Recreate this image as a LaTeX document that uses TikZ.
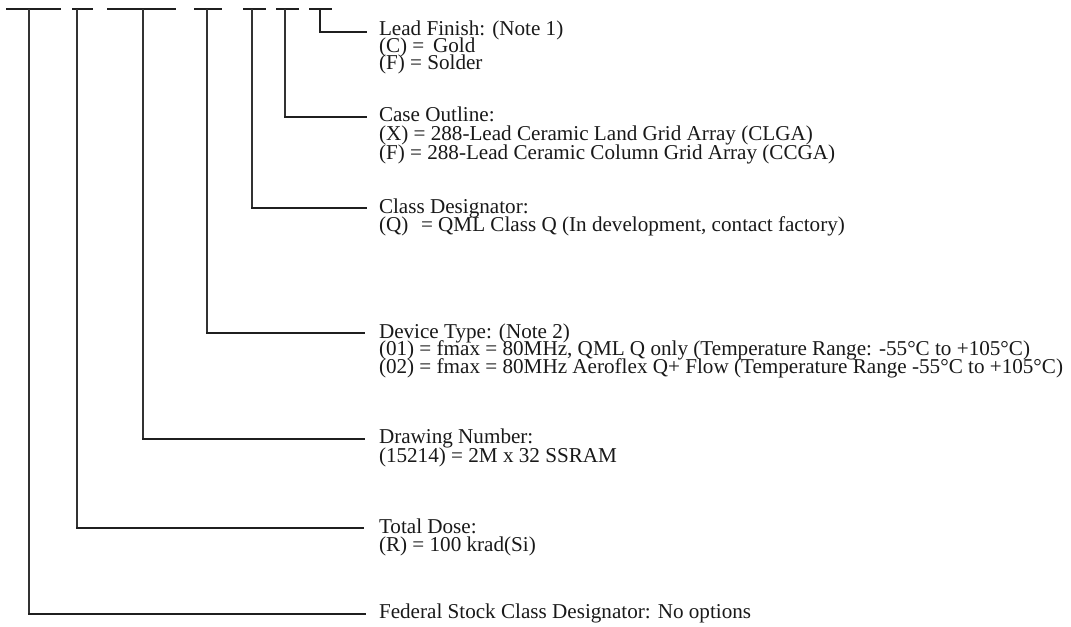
\documentclass[tikz,border=0pt]{standalone}
\usepackage{fontspec}
\setmainfont{Liberation Serif}
\begin{document}
\begin{tikzpicture}[x=0.75pt,y=-0.75pt,
  bar/.style={line width=1.9pt, draw=black!88},
  vline/.style={line width=0.8pt, draw=black!80},
  hline/.style={line width=1.6pt, draw=black!88},
  lbl/.style={anchor=base west, inner sep=0pt, outer sep=0pt,
    font=\fontsize{15.85pt}{18pt}\selectfont, text=black!90}]
\useasboundingbox (0,0) rectangle (1071,626);

% top bars
\foreach \n/\a/\b in {1/6/61, 2/72/93, 3/107/176, 4/194/222, 5/243/266, 6/276/299, 7/309/332}
  \draw[bar] (\a,9) -- (\b,9);

% tap points on the bars
\coordinate (b1) at (29,9);
\coordinate (b2) at (77,9);
\coordinate (b3) at (143,9);
\coordinate (b4) at (207,9);
\coordinate (b5) at (252,9);
\coordinate (b6) at (285,9);
\coordinate (b7) at (320,9);

% connector corners and ends
\coordinate (c7) at (320,32);  \coordinate (e7) at (367,32);
\coordinate (c6) at (285,117); \coordinate (e6) at (367,117);
\coordinate (c5) at (252,208); \coordinate (e5) at (367,208);
\coordinate (c4) at (207,333); \coordinate (e4) at (365,333);
\coordinate (c3) at (143,439); \coordinate (e3) at (365,439);
\coordinate (c2) at (77,528);  \coordinate (e2) at (364,528);
\coordinate (c1) at (29,614);  \coordinate (e1) at (366,614);

% lead finish connector (heavier)
\draw[hline] (b7) -- (c7) -- (e7);
\foreach \i in {1,...,6} {
  \draw[vline] (b\i) -- (c\i);
  \draw[hline] ([xshift=-0.5pt]c\i) -- (e\i);
}

% labels
\node[lbl] (t7a) at (379,35) {Lead Finish: (Note 1)};
\node[lbl] (t7b) at (379,52) {(C) = \,Gold};
\node[lbl] (t7c) at (379,69) {(F) = Solder};

\node[lbl] (t6a) at (379,121) {Case Outline:};
\node[lbl] (t6b) at (379,140) {(X) = 288-Lead Ceramic Land Grid Array (CLGA)};
\node[lbl] (t6c) at (379,159) {(F) = 288-Lead Ceramic Column Grid Array (CCGA)};

\node[lbl] (t5a) at (379,213) {Class Designator:};
\node[lbl] (t5b) at (379,231) {(Q)\hspace{0.6em}= QML Class Q (In development, contact factory)};

\node[lbl] (t4a) at (379,338) {Device Type: (Note 2)};
\node[lbl] (t4b) at (379,355) {(01) = fmax = 80MHz, QML Q only (Temperature Range: -55°C to +105°C)};
\node[lbl] (t4c) at (379,373) {(02) = fmax = 80MHz Aeroflex Q+ Flow (Temperature Range -55°C to +105°C)};

\node[lbl] (t3a) at (379,443) {Drawing Number:};
\node[lbl] (t3b) at (379,462) {(15214) = 2M x 32 SSRAM};

\node[lbl] (t2a) at (379,533) {Total Dose:};
\node[lbl] (t2b) at (379,551) {(R) = 100 krad(Si)};

\node[lbl] (t1a) at (379,618) {Federal Stock Class Designator: No options};
\end{tikzpicture}
\end{document}
